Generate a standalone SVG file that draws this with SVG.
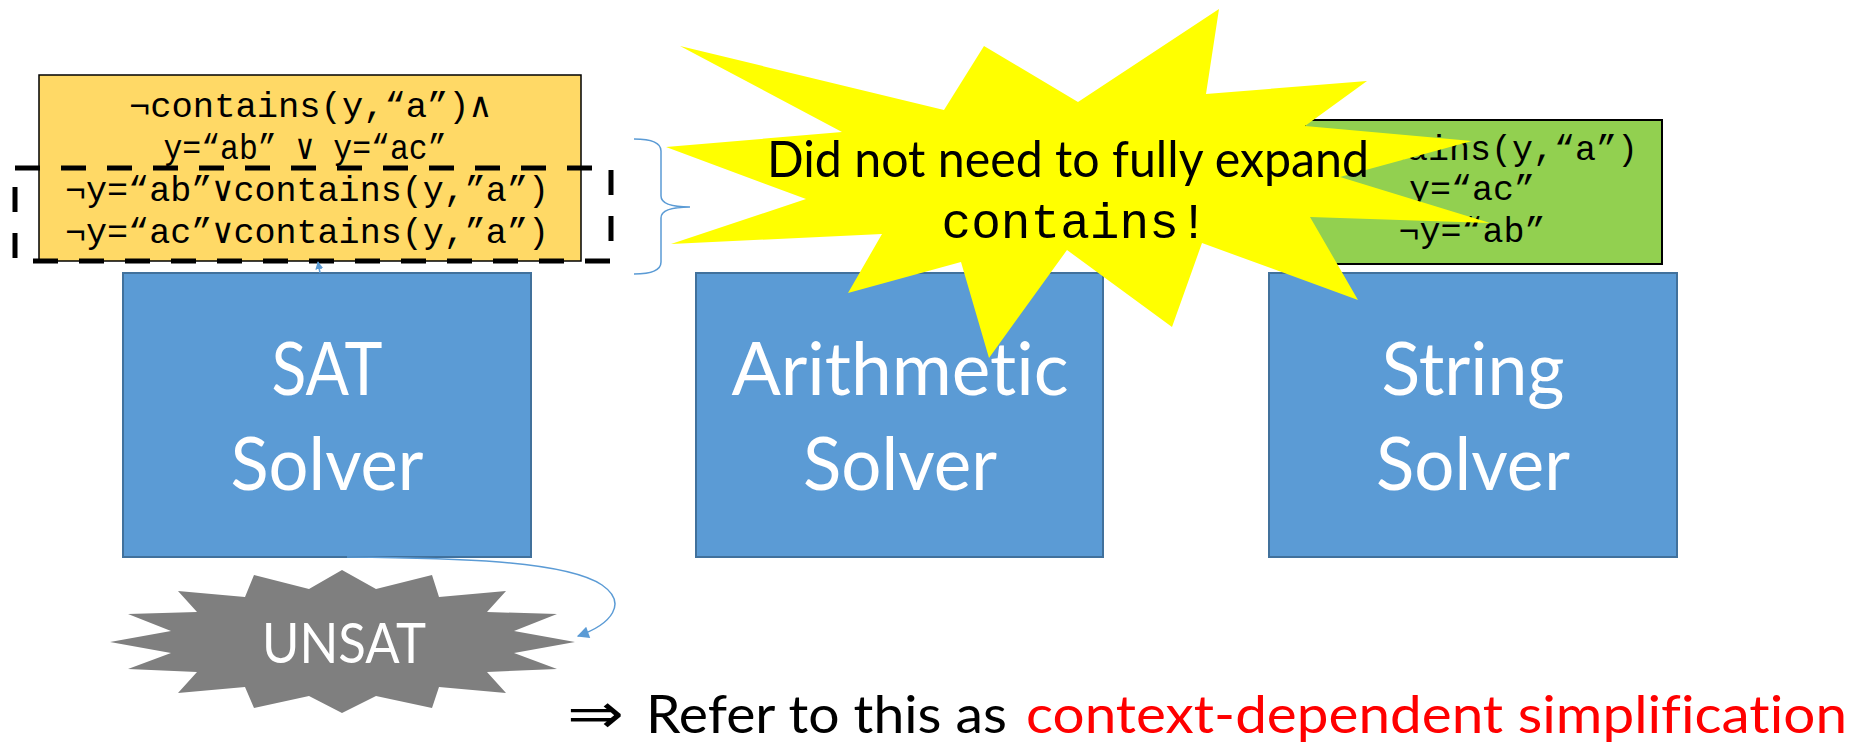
<svg xmlns="http://www.w3.org/2000/svg" width="1872" height="744" viewBox="0 0 1872 744">
<style>
text{font-variant-ligatures:none;font-feature-settings:"liga" 0,"dlig" 0}
.solver{fill:#5B9BD5;stroke:#41719C;stroke-width:2}
.lbl{font-family:Lato,"Open Sans",sans-serif;fill:#fff;text-anchor:middle}
.mono{font-family:"Liberation Mono","DejaVu Sans Mono",monospace;font-size:35px;fill:#000;text-anchor:middle}
.conn{fill:none;stroke:#5B9BD5;stroke-width:1.5}
</style>
<defs>
<marker id="ah" viewBox="0 0 10 10" refX="9" refY="5" markerWidth="8" markerHeight="8" markerUnits="userSpaceOnUse" orient="auto">
<path d="M0,0 L10,5 L0,10 z" fill="#5B9BD5"/>
</marker>
<marker id="ah2" viewBox="0 0 10 10" refX="9" refY="5" markerWidth="14" markerHeight="12" markerUnits="userSpaceOnUse" orient="auto">
<path d="M0,0 L10,5 L0,10 z" fill="#5B9BD5"/>
</marker>
</defs>
<rect width="1872" height="744" fill="#fff"/>

<g id="sat-constraints">
<rect x="39" y="75" width="542" height="186" fill="#FFD966" stroke="#000" stroke-width="1.5"/>
<text class="mono" x="310" y="117" textLength="362" lengthAdjust="spacingAndGlyphs">¬contains(y,“a”)∧</text>
<text class="mono" x="305" y="159" textLength="283" lengthAdjust="spacingAndGlyphs">y=“ab” ∨ y=“ac”</text>
<text class="mono" x="307" y="201" textLength="484" lengthAdjust="spacingAndGlyphs">¬y=“ab”∨contains(y,”a”)</text>
<text class="mono" x="307" y="243" textLength="484" lengthAdjust="spacingAndGlyphs">¬y=“ac”∨contains(y,”a”)</text>
<rect x="15" y="168" width="596" height="93" fill="none" stroke="#000" stroke-width="5" stroke-dasharray="25 21"/>
</g>

<g id="string-constraints">
<rect x="1305" y="120" width="357" height="144" fill="#92D050" stroke="#000" stroke-width="2"/>
<text class="mono" x="1638" y="160" style="text-anchor:end">¬contains(y,“a”)</text>
<text class="mono" x="1472" y="200">y=“ac”</text>
<text class="mono" x="1472" y="242">¬y=“ab”</text>
</g>

<g id="sat-solver">
<rect class="solver" x="123" y="273" width="408" height="284"/>
<text class="lbl" x="327" y="395" font-size="73" textLength="111" lengthAdjust="spacingAndGlyphs">SAT</text>
<text class="lbl" x="327" y="490" font-size="73" textLength="193" lengthAdjust="spacingAndGlyphs">Solver</text>
</g>

<g id="arith-solver">
<rect class="solver" x="696" y="273" width="407" height="284"/>
<text class="lbl" x="900" y="395" font-size="73" textLength="337" lengthAdjust="spacingAndGlyphs">Arithmetic</text>
<text class="lbl" x="900" y="490" font-size="73" textLength="194" lengthAdjust="spacingAndGlyphs">Solver</text>
</g>

<g id="string-solver">
<rect class="solver" x="1269" y="273" width="408" height="284"/>
<text class="lbl" x="1473" y="395" font-size="73" textLength="183" lengthAdjust="spacingAndGlyphs">String</text>
<text class="lbl" x="1473" y="490" font-size="73" textLength="194" lengthAdjust="spacingAndGlyphs">Solver</text>
</g>

<g id="brace">
<path class="conn" d="M634,139 Q661,139 661,151 L661,196 Q661,207 690,207 Q661,207 661,218 L661,262 Q661,274 634,274"/>
</g>

<g id="callout">
<polygon fill="#FFFF00" points="680,46 944,110 984,46 1078,102 1219,9 1206,94 1367,81 1305,126 1472,141 1340,177 1490,223 1310,217 1358,300 1202,243 1172,327 1067,250 989,358 961,262 848,293 882,234 671,244 806,199 666,147 842,132"/>
<text x="1068" y="177" font-family="Lato,'Open Sans',sans-serif" font-size="50" fill="#000" text-anchor="middle" textLength="602" lengthAdjust="spacingAndGlyphs">Did not need to fully expand</text>
<text x="1075" y="238" font-family="'Liberation Mono','DejaVu Sans Mono',monospace" font-size="50" fill="#000" text-anchor="middle" textLength="267" lengthAdjust="spacingAndGlyphs">contains!</text>
</g>

<g id="unsat">
<polygon fill="#7F7F7F" points="110,642 171,631 128,614 197,612 178,591 245,597 254,575 309,589 342,570 376,589 432,575 439,597 506,591 487,612 557,614 514,631 575,642 514,653 557,669 487,672 506,693 439,687 432,708 376,696 342,713 309,696 254,708 245,687 178,693 197,672 128,669 171,653"/>
<text class="lbl" x="344" y="663" font-size="56" textLength="164" lengthAdjust="spacingAndGlyphs">UNSAT</text>
</g>

<g id="connectors">
<path class="conn" d="M320,273 L318,262" marker-end="url(#ah)"/>
<path class="conn" d="M347,557 C450,558 565,560 602,585 C628,603 612,624 578,636" marker-end="url(#ah2)"/>
</g>

<g id="conclusion">
<text x="567" y="733" font-family="'DejaVu Sans',sans-serif" font-size="56" fill="#000" textLength="57" lengthAdjust="spacingAndGlyphs">⇒</text>
<text x="646" y="733" font-family="Lato,'Open Sans',sans-serif" font-size="53" fill="#000" textLength="361" lengthAdjust="spacingAndGlyphs">Refer to this as</text>
<text x="1026" y="733" font-family="Lato,'Open Sans',sans-serif" font-size="53" fill="#FF0000" textLength="821" lengthAdjust="spacingAndGlyphs">context-dependent simplification</text>
</g>
</svg>
